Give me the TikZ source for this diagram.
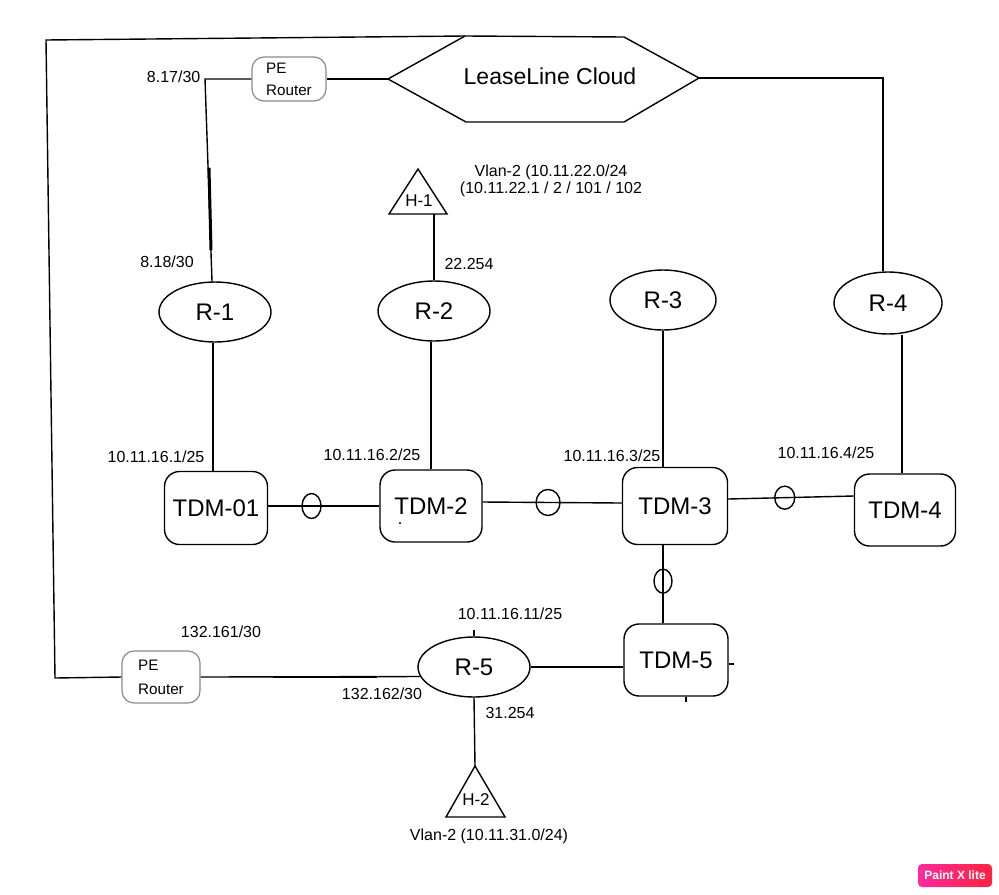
\documentclass[tikz,border=0pt]{standalone}
\usepackage{fontspec}
\setmainfont{Liberation Sans}
\usetikzlibrary{shapes.geometric}
\definecolor{pegray}{HTML}{8A8A8A}
\definecolor{pxl}{HTML}{FF2A9D}
\definecolor{pxr}{HTML}{FF2340}
\begin{document}
\begin{tikzpicture}[x=0.5pt,y=-0.5pt,line width=0.7pt,
  router/.style={draw,ellipse,inner sep=0pt,minimum width=56pt,minimum height=30pt,font=\fontsize{12}{14}\selectfont},
  tdm/.style={draw,rounded corners=7.5pt,inner sep=0pt,minimum width=51pt,minimum height=36pt,font=\fontsize{12}{14}\selectfont},
  pebox/.style={draw=pegray,line width=0.6pt,rounded corners=6pt,inner sep=0pt,align=left},
  lbl/.style={inner sep=0pt,font=\fontsize{8}{9.6}\selectfont},
  ring/.style={draw,ellipse,inner sep=0pt},
  hlbl/.style={inner sep=0pt,font=\fontsize{8.5}{10}\selectfont},
]
\fill[white] (0,0) rectangle (999,894);
\useasboundingbox (0,0) rectangle (999,894);

% cloud
\coordinate (hL) at (388,79);
\coordinate (hTL) at (465,36);
\coordinate (hTR) at (624,37);
\coordinate (hR) at (699,78);
\coordinate (hBR) at (624,122);
\coordinate (hBL) at (466,122);
\draw (hL) -- (hTL) -- (hTR) -- (hR) -- (hBR) -- (hBL) -- cycle;
\node[inner sep=0pt,font=\fontsize{11.5}{13}\selectfont] (cloud) at (550,76) {LeaseLine Cloud};

% routers
\node[router] (R1) at (215,312) {R-1};
\node[router] (R2) at (434,311) {R-2};
\node[router,minimum width=53pt] (R3) at (663,300) {R-3};
\node[router,minimum width=54pt,minimum height=31pt] (R4) at (888,303) {R-4};
\node[router] (R5) at (474,667) {R-5};

% TDMs
\node[tdm,minimum width=51.5pt,minimum height=36.5pt] (T1) at (216,508) {TDM-01};
\node[tdm] (T2) at (431,506) {TDM-2};
\node[tdm,minimum width=52.5pt,minimum height=38.5pt] (T3) at (675,506) {TDM-3};
\node[tdm,minimum width=50.5pt] (T4) at (905,510) {TDM-4};
\node[tdm,minimum width=52pt] (T5) at (676,660) {TDM-5};

% PE routers
\node[pebox,minimum width=37pt,minimum height=22pt,font=\fontsize{7.6}{11}\selectfont] (PE1) at (289,79) {PE\\Router};
\node[pebox,minimum width=39pt,minimum height=26pt,font=\fontsize{7.6}{12}\selectfont] (PE2) at (161,677) {PE\\Router};

% hosts
\draw (418,169) -- (447,214) -- (389,214) -- cycle;
\node[hlbl] (H1) at (419,201) {H-1};
\coordinate (H1b) at (434,214);
\draw (H1b) -- (H1b |- R2.north);

\coordinate (H2a) at (475,766);
\draw (H2a) -- (505,817) -- (446,817) -- cycle;
\node[hlbl] (H2) at (476,800) {H-2};
\draw (R5.south) -- (H2a);

% outer loop and top links
\coordinate (tl) at (46,40);
\coordinate (bl) at (55,678);
\draw (PE2.west) -- (bl) -- (tl) -- (hTL);
\draw (PE1.east) -- (hL);
\coordinate (c1) at (205,79);
\draw (PE1.west) -- (c1) -- ([xshift=-1.5pt]R1.north);
\draw[line width=1.5pt] (209,168) -- (211,250);
\coordinate (c4) at (883,78);
\draw (hR) -- (c4) -- (c4 |- R4.north);

% router to TDM
\draw ([xshift=-1pt]R1.south) -- ([xshift=-1pt]R1.south |- T1.north);
\draw (R2.south -| T2.north) -- (T2.north);
\draw (R3.south) -- (R3.south |- T3.north);
\draw ([xshift=-1.5pt]T4.north |- R4.south) -- ([xshift=-1.5pt]T4.north);

% TDM ring links
\draw ([yshift=1pt]T1.east) -- node[ring,pos=0.39,minimum width=9.5pt,minimum height=12.5pt] (k1) {} (T2.west);
\draw ([yshift=2pt]T2.east) -- node[ring,pos=0.47,minimum width=12pt,minimum height=13pt] (k2) {} ([yshift=1.5pt]T3.west);
\draw ([yshift=3.5pt]T3.east) -- node[ring,pos=0.45,minimum width=10pt,minimum height=11.5pt] (k3) {} ([yshift=7pt]T4.west);
\draw (T3.south -| R3.south) -- node[ring,pos=0.46,minimum width=9pt,minimum height=12pt] (k4) {} (T5.north -| R3.south);

% R-5 links
\draw (PE2.east) -- (R5.190);
\draw[line width=1.4pt] (273,677) -- (377,677);
\draw (R5.east) -- (R5.east -| T5.west);

% small marks
\fill (400,523) circle[radius=0.6pt];
\draw (R5.north) -- ++(0,-6);
\draw ([yshift=-2pt]T5.east) -- ++(5,0);
\draw ([xshift=5pt]T5.south) -- ++(0,5);

% labels
\node[lbl,anchor=east] (l817) at (201,77) {8.17/30};
\node[lbl] (l818) at (167,262) {8.18/30};
\node[lbl] (l22) at (469,264) {22.254};
\node[lbl,align=center,font=\fontsize{8}{8.5}\selectfont] (v1) at (551,181) {Vlan-2 (10.11.22.0/24\\(10.11.22.1 / 2 / 101 / 102};
\node[lbl] (a1) at (156,457) {10.11.16.1/25};
\node[lbl] (a2) at (372,455) {10.11.16.2/25};
\node[lbl] (a3) at (612,456) {10.11.16.3/25};
\node[lbl] (a4) at (826,453) {10.11.16.4/25};
\node[lbl] (a11) at (510,614) {10.11.16.11/25};
\node[lbl] (p161) at (221,632) {132.161/30};
\node[lbl] (p162) at (382,694) {132.162/30};
\node[lbl] (l31) at (510,713) {31.254};
\node[lbl] (v2) at (489,836) {Vlan-2 (10.11.31.0/24)};

% badge
\node[rounded corners=2pt,left color=pxl,right color=pxr,text=white,font=\bfseries\fontsize{6}{7}\selectfont,minimum width=37pt,minimum height=11.5pt,inner sep=0pt] (px) at (955,875.5) {Paint X lite};
\end{tikzpicture}
\end{document}
